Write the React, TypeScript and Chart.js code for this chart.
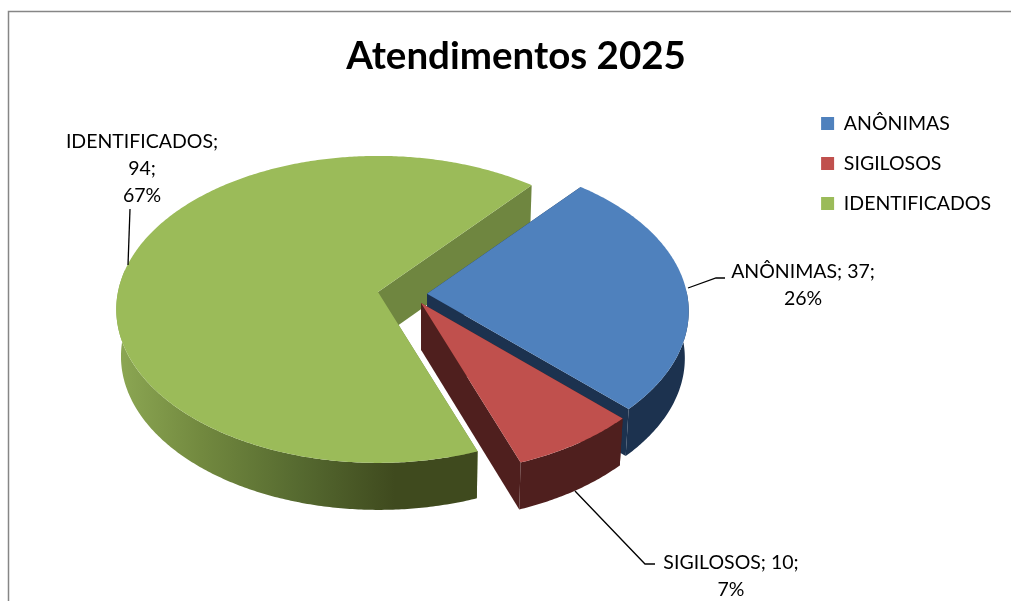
import React, { useEffect, useRef } from "react";
import { Chart, registerables } from "chart.js";

Chart.register(...registerables);

const categories = ["ANÔNIMAS", "SIGILOSOS", "IDENTIFICADOS"];
const attendances = [37, 10, 94];
const percentLabels = ["26%", "7%", "67%"];
const topColors = ["#4f81bd", "#c0504d", "#9bbb59"];
const wallColors = ["#1c324f", "#4f1f1e", "#455520"];
const faceColors = ["#1c324f", "#4f1f1e", "#6f8640"];
const titleText = "Atendimentos 2025";

// pie presentation (3D look)
const PIE_CX = 402.3;
const PIE_CY = 294.4;
const PIE_R = 260;
const SQUASH = 0.5827;
const PERSPECTIVE = 0.114;
const DEPTH = 47;
const VANISH_X = 430;
const DEPTH_SHRINK = 0.985;
const EXPLODE = 99;
const NUDGES = [[0, 0], [5.2, -3.6], [0, 0]];
const DRAW_ORDER = [2, 0, 1];
const FONT = "Lato";

const labelLines = [
  [`${categories[0]}; ${attendances[0]};`, percentLabels[0]],
  [`${categories[1]}; ${attendances[1]};`, percentLabels[1]],
  [`${categories[2]};`, `${attendances[2]};`, percentLabels[2]],
];
const labelAnchors = [[803, 272], [731, 563], [142, 142]];
const LINE_HEIGHT = 27;
const leaders = [
  [[688, 288], [716, 278], [725, 278]],
  [[575, 491], [645, 564], [655, 564]],
  [[128, 265], [130, 209]],
];

type Pt = [number, number];

const pie3d = {
  id: "pie3d",
  beforeDraw(chart: any) {
    const { ctx, width, height } = chart;
    ctx.save();
    ctx.fillStyle = "#ffffff";
    ctx.fillRect(0, 0, width, height);
    ctx.strokeStyle = "#868686";
    ctx.lineWidth = 1.5;
    ctx.beginPath();
    ctx.moveTo(8.5, height);
    ctx.lineTo(8.5, 11.5);
    ctx.lineTo(width, 11.5);
    ctx.stroke();
    ctx.restore();
  },
  beforeDatasetsDraw(chart: any) {
    const { ctx } = chart;
    const arcs = chart.getDatasetMeta(0).data;
    const toScreen = (ox: number, oy: number, t: number, scale = 1): Pt => {
      const u = Math.cos(t) * scale;
      const v = Math.sin(t) * scale;
      const d = 1 - PERSPECTIVE * v;
      return [ox + (PIE_R * u) / d, oy + (PIE_R * SQUASH * v) / d];
    };
    const lower = (p: Pt): Pt => [VANISH_X + (p[0] - VANISH_X) * DEPTH_SHRINK, p[1] + DEPTH];
    const fillPoly = (pts: Pt[], fill: any) => {
      ctx.fillStyle = fill;
      ctx.beginPath();
      pts.forEach((p, i) => (i ? ctx.lineTo(p[0], p[1]) : ctx.moveTo(p[0], p[1])));
      ctx.closePath();
      ctx.fill();
    };
    const greenWall = ctx.createLinearGradient(118, 0, 395, 0);
    greenWall.addColorStop(0, "#8ca753");
    greenWall.addColorStop(0.3, "#72893f");
    greenWall.addColorStop(0.65, "#566a30");
    greenWall.addColorStop(1, "#3f4a1e");

    DRAW_ORDER.forEach((i) => {
      const arc = arcs[i];
      const a0 = arc.startAngle;
      const a1 = arc.endAngle;
      const mid = (a0 + a1) / 2;
      const off = (arc.options.offset || 0) / 4 / PIE_R;
      const du = Math.cos(mid) * off;
      const dv = Math.sin(mid) * off;
      const dd = 1 - PERSPECTIVE * dv;
      const apex: Pt = [
        PIE_CX + (PIE_R * du) / dd + NUDGES[i][0],
        PIE_CY + (PIE_R * SQUASH * dv) / dd + NUDGES[i][1],
      ];
      const rim = (from: number, to: number) => {
        const pts: Pt[] = [];
        const n = Math.max(2, Math.ceil(Math.abs(to - from) / 0.01));
        for (let k = 0; k <= n; k++) pts.push(toScreen(apex[0], apex[1], from + ((to - from) * k) / n));
        return pts;
      };
      // cut faces
      [a0, a1].forEach((a) => {
        const p = toScreen(apex[0], apex[1], a);
        fillPoly([apex, p, lower(p), lower(apex)], faceColors[i]);
      });
      // outer wall, front half only
      const lo = Math.max(a0, -0.02);
      const hi = Math.min(a1, Math.PI + 0.15);
      if (hi > lo) {
        const top = rim(lo, hi);
        const bottom = top.map(lower).reverse();
        fillPoly([...top, ...bottom], i === 2 ? greenWall : wallColors[i]);
      }
      // top surface
      fillPoly([apex, ...rim(a0, a1)], arc.options.backgroundColor);
    });
    return false;
  },
  afterDraw(chart: any) {
    const { ctx } = chart;
    ctx.save();
    ctx.strokeStyle = "#000000";
    ctx.lineWidth = 1.3;
    leaders.forEach((path) => {
      ctx.beginPath();
      path.forEach((p, i) => (i ? ctx.lineTo(p[0], p[1]) : ctx.moveTo(p[0], p[1])));
      ctx.stroke();
    });
    ctx.fillStyle = "#000000";
    ctx.font = `19.5px ${FONT}`;
    ctx.textAlign = "center";
    ctx.textBaseline = "middle";
    labelLines.forEach((lines, i) => {
      lines.forEach((line, j) => ctx.fillText(line, labelAnchors[i][0], labelAnchors[i][1] + j * LINE_HEIGHT));
    });
    ctx.restore();
  },
};

export default function App() {
  const ref = useRef<HTMLCanvasElement>(null);
  useEffect(() => {
    document.body.style.margin = "0";
    const chart = new Chart(ref.current as HTMLCanvasElement, {
      type: "pie",
      data: {
        labels: categories,
        datasets: [
          {
            data: attendances,
            backgroundColor: topColors,
            borderWidth: 0,
            offset: EXPLODE,
            radius: PIE_R,
            rotation: 40,
            clip: false,
          } as any,
        ],
      },
      options: {
        responsive: false,
        animation: false,
        devicePixelRatio: 1,
        layout: { padding: { left: 31, right: 10, top: 33, bottom: 0 } },
        plugins: {
          tooltip: { enabled: false },
          title: {
            display: true,
            text: titleText,
            color: "#000000",
            font: { family: FONT, size: 38.5, weight: "bold" },
            padding: { top: 0, bottom: 14 },
          },
          legend: {
            position: "right",
            align: "start",
            fullSize: false,
            labels: {
              boxWidth: 13,
              boxHeight: 13,
              padding: 20.5,
              color: "#000000",
              font: { family: FONT, size: 19.5 },
            },
          },
        },
      } as any,
      plugins: [pie3d],
    });
    return () => chart.destroy();
  }, []);
  return (
    <canvas
      ref={ref}
      width={1011}
      height={601}
      style={{ display: "block", position: "fixed", left: 0, top: 0 }}
    />
  );
}
